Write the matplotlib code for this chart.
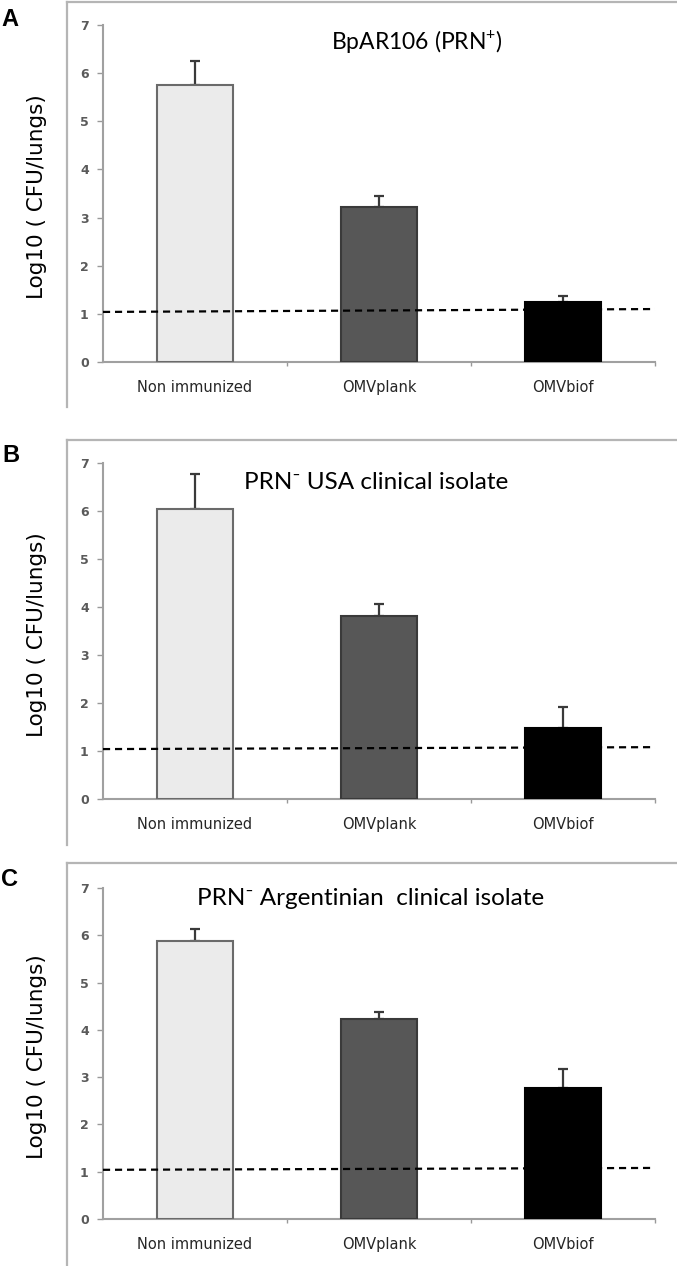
import numpy as np
import matplotlib.pyplot as plt
from matplotlib.lines import Line2D

# ---- data ----
categories = ['Non immunized', 'OMVplank', 'OMVbiof']

mean_a = [5.76, 3.21, 1.24]
err_a  = [0.49, 0.23, 0.14]
mean_b = [6.04, 3.81, 1.48]
err_b  = [0.73, 0.25, 0.44]
mean_c = [5.88, 4.23, 2.77]
err_c  = [0.25, 0.15, 0.40]

# detection limit line (slightly tilted in the scan), left / right end
limit_a = [1.04, 1.10]
limit_b = [1.04, 1.08]
limit_c = [1.04, 1.08]

titles = [r'BpAR106 (PRN$^{+}$)',
          'PRN\u207B USA clinical isolate',
          'PRN\u207B Argentinian  clinical isolate']
panel_letters = ['A', 'B', 'C']
yticks = [0, 1, 2, 3, 4, 5, 6, 7]

plt.rcParams['mathtext.fontset'] = 'custom'
plt.rcParams['mathtext.rm'] = 'Lato'

W, H = 677, 1266
fig = plt.figure(figsize=(W/100, H/100), dpi=100)

bar_face = ['#ebebeb', '#575757', '#000000']
bar_edge = ['#6a6a6a', '#3a3a3a', '#000000']

# axes rectangles in pixels: (zero line y, top (=7) y)
axes_px = [(362, 25), (799, 463), (1219, 888)]
title_pos = [(0.569, 0.95, 16.5), (0.495, 0.943, 17.5), (0.484, 0.967, 17.5)]
# outer frames: top y, bottom y
frames = [(2, 407), (440, 845), (863, 1266)]
letter_pos = [(10, 19), (11, 456), (10, 880)]

means = [mean_a, mean_b, mean_c]
errs = [err_a, err_b, err_c]
limits = [limit_a, limit_b, limit_c]

x = np.arange(len(categories))
ax_left, ax_right = 103, 655

for i in range(3):
    zero_y, top_y = axes_px[i]
    ax = fig.add_axes([ax_left/W, 1 - zero_y/H, (ax_right - ax_left)/W, (zero_y - top_y)/H])
    ax.patch.set_alpha(0)

    ax.bar(x, means[i], width=0.41, color=bar_face, edgecolor=bar_edge, linewidth=1.5, zorder=3)
    ax.errorbar(x, means[i], yerr=[np.zeros(3), errs[i]], fmt='none', ecolor='#3a3a3a',
                elinewidth=1.6, capsize=3.5, capthick=1.6, zorder=2)

    ax.plot([-0.5, 2.5], limits[i], color='black', linewidth=1.6,
            linestyle=(0, (3.2, 2.2)), zorder=4, clip_on=False)

    ax.set_xlim(-0.5, 2.5)
    ax.set_ylim(0, 7)
    ax.set_yticks(yticks)
    ax.set_xticks(x)
    ax.set_xticklabels(categories, fontsize=10.5, color='#262626', fontweight='medium')
    ax.set_xticks([0.5, 1.5, 2.5], minor=True)
    ax.tick_params(axis='x', which='major', length=0, pad=13)
    ax.tick_params(axis='x', which='minor', length=3, color='#999999', width=1)
    ax.tick_params(axis='y', length=4.3, width=1, color='#999999', pad=6,
                   labelsize=9, labelcolor='#5a5a5a')
    for lab in ax.get_yticklabels():
        lab.set_fontweight('bold')

    for s in ['top', 'right']:
        ax.spines[s].set_visible(False)
    for s in ['left', 'bottom']:
        ax.spines[s].set_color('#a0a0a0')
        ax.spines[s].set_linewidth(1.5)

    ax.set_ylabel('Log10 ( CFU/lungs)', fontsize=15.5, family='DejaVu Sans')
    ax.yaxis.set_label_coords(-0.101, 0.49)

    tx, ty, tfs = title_pos[i]
    ax.text(tx, ty, titles[i], transform=ax.transAxes, ha='center', va='center',
            fontsize=tfs, family=['Lato', 'DejaVu Sans'])

    # outer gray frame (left and top edges)
    f_top, f_bot = frames[i]
    fig.add_artist(Line2D([67/W, 67/W], [1 - f_top/H, 1 - f_bot/H], color='#b5b5b5', linewidth=1.6))
    fig.add_artist(Line2D([67/W, 1.0], [1 - f_top/H, 1 - f_top/H], color='#b5b5b5', linewidth=1.6))

    lx, ly = letter_pos[i]
    fig.text(lx/W, 1 - ly/H, panel_letters[i], ha='center', va='center',
             fontsize=17, fontweight='bold', family='Liberation Sans')

fig.savefig('out.png', dpi=100)
